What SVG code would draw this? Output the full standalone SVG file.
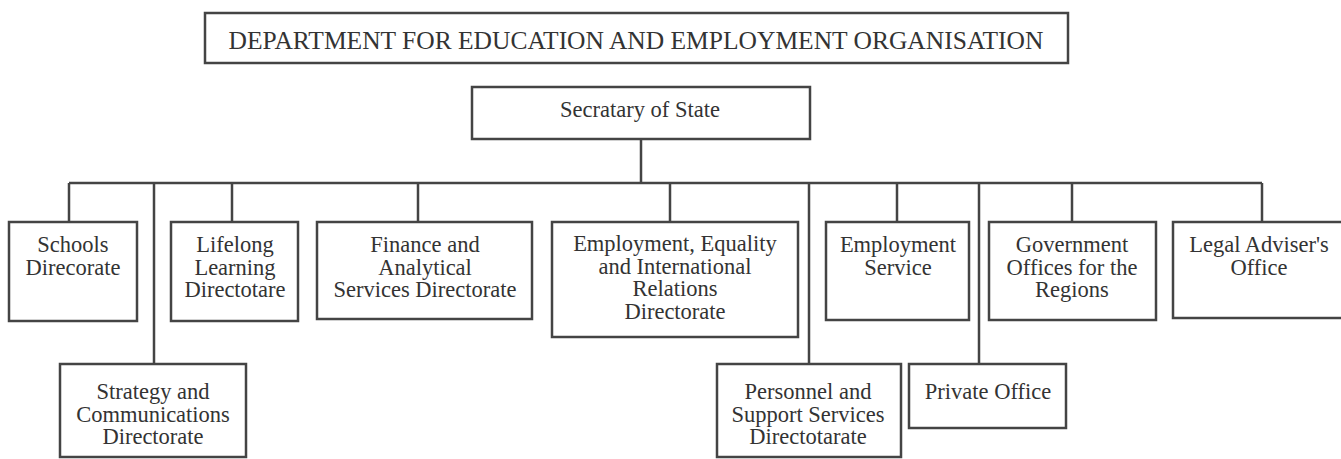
<svg xmlns="http://www.w3.org/2000/svg" width="1341" height="459" viewBox="0 0 1341 459">
<style>
.box{fill:#fff;stroke:#444;stroke-width:2.5}
.ln{fill:none;stroke:#444;stroke-width:2.5}
text{font-family:"Liberation Serif","Times New Roman",serif;font-size:22.5px;fill:#333;text-anchor:middle}
.title{font-size:25.5px}
</style>
<rect width="1341" height="459" fill="#fff"/>
<g id="connectors">
<path class="ln" d="M641 139V183M69 183H1262M69 183V222M154 183V364M232 183V222M418 183V222M670 183V222M809 183V364M897 183V222M979 183V364M1072 183V222M1262 183V222"/>
</g>
<g id="title">
<rect class="box" x="205" y="13" width="863" height="50"/>
<text class="title" x="636" y="49">DEPARTMENT FOR EDUCATION AND EMPLOYMENT ORGANISATION</text>
</g>
<g id="secretary">
<rect class="box" x="472" y="87" width="338" height="52"/>
<text x="640" y="117">Secratary of State</text>
</g>
<g id="schools">
<rect class="box" x="9" y="222" width="128" height="99"/>
<text x="73" y="252">Schools</text>
<text x="73" y="274.5">Direcorate</text>
</g>
<g id="lifelong">
<rect class="box" x="171" y="222" width="127" height="99"/>
<text x="235" y="252">Lifelong</text>
<text x="235" y="274.5">Learning</text>
<text x="235" y="297">Directotare</text>
</g>
<g id="finance">
<rect class="box" x="317" y="222" width="215" height="97"/>
<text x="425" y="252">Finance and</text>
<text x="425" y="274.5">Analytical</text>
<text x="425" y="297">Services Directorate</text>
</g>
<g id="employment-equality">
<rect class="box" x="552" y="222" width="246" height="115"/>
<text x="675" y="251">Employment, Equality</text>
<text x="675" y="273.5">and International</text>
<text x="675" y="296">Relations</text>
<text x="675" y="318.5">Directorate</text>
</g>
<g id="employment-service">
<rect class="box" x="826" y="222" width="143" height="98"/>
<text x="898" y="252">Employment</text>
<text x="898" y="274.5">Service</text>
</g>
<g id="government">
<rect class="box" x="989" y="222" width="167" height="98"/>
<text x="1072" y="252">Government</text>
<text x="1072" y="274.5">Offices for the</text>
<text x="1072" y="297">Regions</text>
</g>
<g id="legal">
<rect class="box" x="1173" y="222" width="172" height="96"/>
<text x="1259" y="252">Legal Adviser's</text>
<text x="1259" y="274.5">Office</text>
</g>
<g id="strategy">
<rect class="box" x="60" y="364" width="186" height="93"/>
<text x="153" y="398.5">Strategy and</text>
<text x="153" y="421.5">Communications</text>
<text x="153" y="444">Directorate</text>
</g>
<g id="personnel">
<rect class="box" x="717" y="364" width="184" height="93"/>
<text x="808" y="398.5">Personnel and</text>
<text x="808" y="421.5">Support Services</text>
<text x="808" y="444">Directotarate</text>
</g>
<g id="private-office">
<rect class="box" x="909" y="364" width="157" height="64"/>
<text x="988" y="398.5">Private Office</text>
</g>
</svg>
